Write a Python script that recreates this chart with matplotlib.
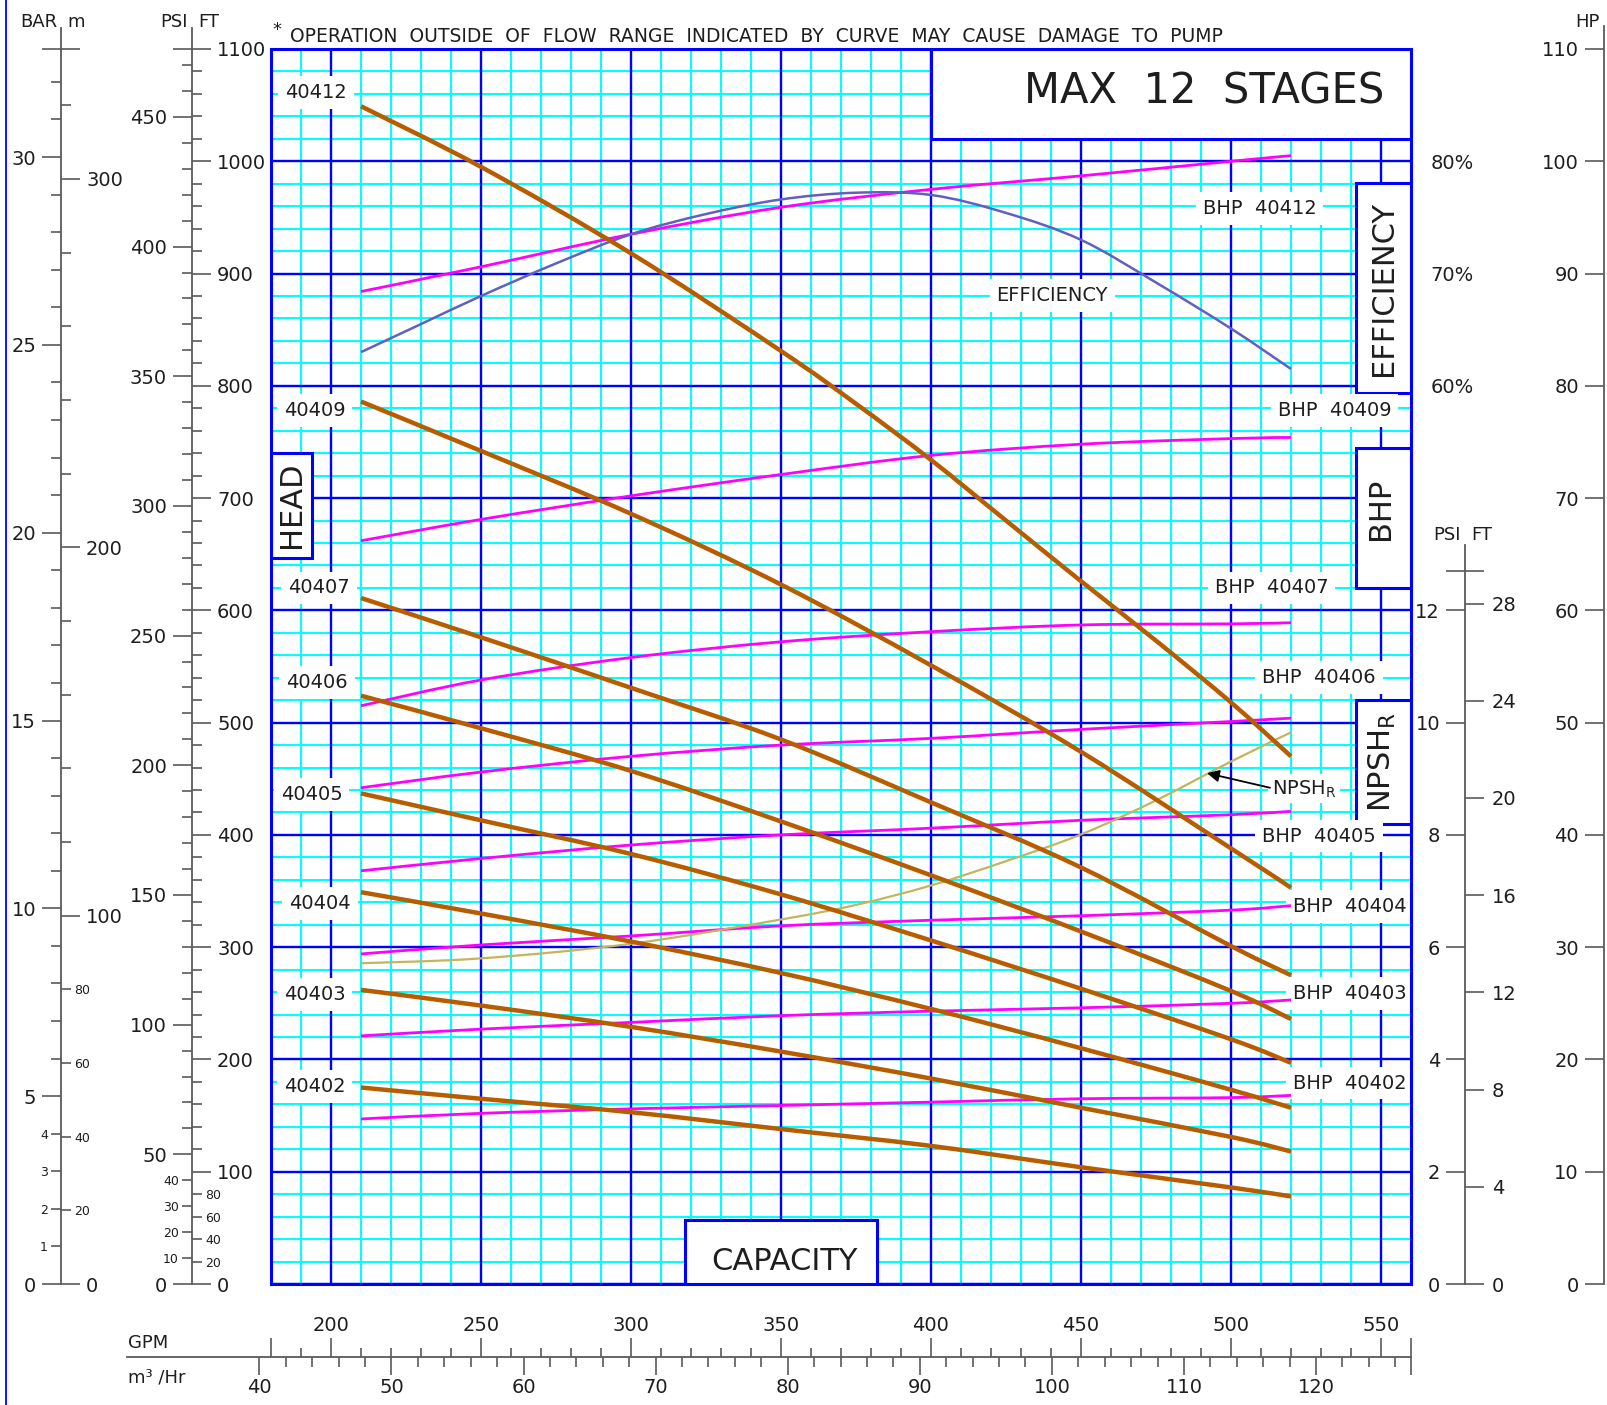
import numpy as np
import matplotlib.pyplot as plt
from matplotlib.patches import Rectangle, PathPatch
from matplotlib.path import Path
from matplotlib.lines import Line2D

W, H = 1607, 1405

# ---- curve readings (flow in GPM, head in FT) ----
flow = [210, 250, 300, 350, 400, 450, 500, 520]
flow_fine = [210, 250, 300, 350, 375, 400, 425, 450, 475, 500, 520]

head_40412 = [1049, 995, 918, 831, 784, 734, 680, 626, 573, 518, 470]
head_40409 = [786, 742, 686, 623, 551, 474, 388, 353]
head_40407 = [611, 576, 531, 485, 429, 371, 301, 275]
head_40406 = [524, 495, 457, 412, 364, 314, 261, 236]
head_40405 = [437, 413, 383, 347, 306, 263, 218, 197]
head_40404 = [349, 330, 305, 277, 245, 210, 173, 157]
head_40403 = [262, 248, 229, 207, 183, 157, 131, 118]
head_40402 = [175, 165, 153, 138, 123, 104, 86, 78]

# brake horsepower (HP)
bhp_40412 = [88.4, 90.6, 93.5, 95.9, 97.5, 98.7, 100.0, 100.5]
bhp_40409 = [66.2, 68.1, 70.2, 72.1, 73.8, 74.8, 75.3, 75.4]
bhp_40407 = [51.5, 53.8, 55.8, 57.2, 58.1, 58.7, 58.8, 58.9]
bhp_40406 = [44.2, 45.6, 47.0, 48.0, 48.6, 49.4, 50.1, 50.4]
bhp_40405 = [36.8, 37.9, 39.1, 40.0, 40.6, 41.3, 41.8, 42.1]
bhp_40404 = [29.4, 30.2, 31.0, 31.9, 32.4, 32.8, 33.3, 33.7]
bhp_40403 = [22.1, 22.7, 23.3, 23.9, 24.3, 24.6, 25.0, 25.3]
bhp_40402 = [14.7, 15.2, 15.6, 15.9, 16.2, 16.5, 16.6, 16.8]

eff_flow = [210, 230, 250, 275, 300, 325, 350, 375, 400, 425, 450, 475, 500, 520]
eff_pct = [63.0, 65.5, 68.0, 70.9, 73.5, 75.3, 76.6, 77.2, 77.0, 75.4, 73.0, 69.2, 65.1, 61.5]

npsh_ft = [13.2, 13.4, 14.0, 15.0, 15.6, 16.4, 17.4, 18.5, 19.9, 21.5, 22.7]

models = ['40412', '40409', '40407', '40406', '40405', '40404', '40403', '40402']
heads = [head_40412, head_40409, head_40407, head_40406,
         head_40405, head_40404, head_40403, head_40402]
bhps = [bhp_40412, bhp_40409, bhp_40407, bhp_40406,
        bhp_40405, bhp_40404, bhp_40403, bhp_40402]

# unit factors (feet of water per unit)
FT_PER_PSI = 2.31
FT_PER_BAR = 33.46
FT_PER_M = 3.281
GPM_PER_M3H = 4.403
CHART_FT_PER_HP = 10.0
CHART_FT_PER_NPSH_PSI = 50.0

# ---- layout ----
BLUE = '#0000ff'
CYAN = '#00ffff'
BROWN = '#b85c00'
MAGENTA = '#ff00ff'
EFFC = '#6060c0'
NPSHC = '#c4b45c'
GREY = '#5a5a5a'
TXT = '#1e1e1e'

PX_L, PX_R, PX_T, PX_B = 271, 1411, 49, 1284


def fx(px):
    return (px - PX_L) / (PX_R - PX_L)


def ft_at(py):
    return 1100.0 * (PX_B - py) / (PX_B - PX_T)


def smooth_curve(x, y, **kw):
    # draw the read points as one smooth bezier path (catmull-rom)
    pts = np.column_stack([np.asarray(x, float), np.asarray(y, float)])
    verts = [pts[0]]
    codes = [Path.MOVETO]
    n = len(pts)
    for i in range(n - 1):
        p0 = pts[i - 1] if i > 0 else pts[i]
        p1, p2 = pts[i], pts[i + 1]
        p3 = pts[i + 2] if i + 2 < n else pts[i + 1]
        verts += [p1 + (p2 - p0) / 6.0, p2 - (p3 - p1) / 6.0, p2]
        codes += [Path.CURVE4] * 3
    ax.add_patch(PathPatch(Path(verts, codes), fill=False, capstyle='butt', **kw))


plt.rcParams['font.family'] = ['DejaVu Sans']

fig = plt.figure(figsize=(W / 100, H / 100), dpi=100)
ax = fig.add_axes([PX_L / W, 1 - PX_B / H, (PX_R - PX_L) / W, (PX_B - PX_T) / H])
ax.set_xlim(180, 560)
ax.set_ylim(0, 1100)
ax.set_xticks([])
ax.set_yticks([])
for s in ax.spines.values():
    s.set_color(BLUE)
    s.set_linewidth(2.2)

# graph paper
ax.vlines(np.arange(180, 561, 10), 0, 1100, color=CYAN, lw=1.5, zorder=0.5)
ax.hlines(np.arange(0, 1101, 20), 180, 560, color=CYAN, lw=1.5, zorder=0.5)
ax.vlines(np.arange(200, 551, 50), 0, 1100, color=BLUE, lw=1.7, zorder=0.6)
ax.hlines(np.arange(0, 1101, 100), 180, 560, color=BLUE, lw=1.7, zorder=0.6)

# boxed captions
for x0, y0, w, h in [(400, 1020, 160, 80), (541.5, 794, 18.5, 187),
                     (541.5, 620, 18.5, 125), (541.5, 410, 18.5, 110),
                     (180, 647, 13.5, 93), (318, 0, 64, 57)]:
    ax.add_patch(Rectangle((x0, y0), w, h, fc='white', ec=BLUE, lw=2.2, zorder=1.5))

ax.text(491, 1062, 'MAX  12  STAGES', fontsize=30, ha='center', va='center', color=TXT, zorder=1.8)
ax.text(550.8, 887, 'EFFICIENCY', fontsize=22, rotation=90, ha='center', va='center', color=TXT, zorder=1.8)
ax.text(549.9, 690, 'BHP', fontsize=22, rotation=90, ha='center', va='center', color=TXT, zorder=1.8)
ax.text(550.4, 465, 'NPSH$_\\mathregular{R}$', fontsize=22, rotation=90, ha='center', va='center',
        color=TXT, zorder=1.8)
ax.text(186.9, 694, 'HEAD', fontsize=22, rotation=90, ha='center', va='center', color=TXT, zorder=1.8)
ax.text(351, 20, 'CAPACITY', fontsize=22, ha='center', va='center', color=TXT, zorder=1.8)

# curve labels
wbox = dict(boxstyle='square,pad=0.35', fc='white', ec='none')
head_label_x = [195.0, 194.6, 196.0, 195.3, 193.6, 196.3, 194.6, 194.6]
head_label_y = [1061, 778, 620, 536, 436, 339, 258, 176]
bhp_label_x = [509.5, 534.5, 513.6, 529.3, 529.3, 539.6, 539.6, 539.6]
bhp_label_y = [958, 778, 620, 540, 399, 336, 259, 179]
for name, x, y in zip(models, head_label_x, head_label_y):
    ax.text(x, y, name, fontsize=14, ha='center', va='center', color=TXT, bbox=wbox, zorder=1.8)
for name, x, y in zip(models, bhp_label_x, bhp_label_y):
    ax.text(x, y, 'BHP  ' + name, fontsize=14, ha='center', va='center', color=TXT, bbox=wbox, zorder=1.8)
ax.text(440.4, 880.5, 'EFFICIENCY', fontsize=14, ha='center', va='center', color=TXT, bbox=wbox, zorder=1.8)
ax.text(513.6, 441, 'NPSH$_\\mathregular{R}$', fontsize=14, ha='left', va='center', color=TXT,
        bbox=dict(boxstyle='square,pad=0.2', fc='white', ec='none'), zorder=1.8)
ax.annotate('', xy=(492, 455), xytext=(513, 442),
            arrowprops=dict(arrowstyle='-|>', color='black', lw=1.3, mutation_scale=18,
                            shrinkA=0, shrinkB=0), zorder=3)

# curves
for b in bhps:
    smooth_curve(flow, np.array(b) * CHART_FT_PER_HP, edgecolor=MAGENTA, lw=2.0, zorder=2.1)
smooth_curve(eff_flow, 800 + (np.array(eff_pct) - 60) * 10, edgecolor=EFFC, lw=1.8, zorder=2.2)
smooth_curve(flow_fine, np.array(npsh_ft) / FT_PER_PSI * CHART_FT_PER_NPSH_PSI,
             edgecolor=NPSHC, lw=1.6, zorder=2.2)
for i, h in enumerate(heads):
    smooth_curve(flow_fine if i == 0 else flow, h, edgecolor=BROWN, lw=3.2, zorder=2.3)

# top note
ax.text(180.4, 1117, '*', fontsize=13, ha='left', va='center', color=TXT, clip_on=False)
ax.text(186.3, 1111, 'OPERATION  OUTSIDE  OF  FLOW  RANGE  INDICATED  BY  CURVE  MAY  CAUSE  DAMAGE  TO  PUMP',
        fontsize=13.5, ha='left', va='center', color=TXT, clip_on=False)


# ---- outer scales ----
def make_scale(pos, ft_per_unit, align, ft_offset=0.0, show_spine=True):
    sec = ax.secondary_yaxis(pos, functions=(
        lambda f, k=ft_per_unit, o=ft_offset: (np.asarray(f, float) - o) / k,
        lambda u, k=ft_per_unit, o=ft_offset: np.asarray(u, float) * k + o))
    sec.set_alignment(align)
    sp = sec.spines[align]
    sp.set_color(GREY)
    sp.set_linewidth(1.3)
    sp.set_visible(show_spine)
    sec.tick_params(which='both', color=GREY, width=1.2, labelcolor=TXT, labelsize=14)
    sec.tick_params(which='major', length=13.5, pad=4.5)
    sec.tick_params(which='minor', length=7, labelsize=9, pad=2.5)
    return sec


def minor_list(start, stop, step, skip, small_max):
    vals = [v for v in np.arange(start, stop, step) if round(v) % skip]
    labs = [str(int(v)) if v <= small_max else '' for v in vals]
    return vals, labs


bar = make_scale(fx(61), FT_PER_BAR, 'left')
bar.set_yticks(list(range(0, 31, 5)) + [1100 / FT_PER_BAR], labels=[str(v) for v in range(0, 31, 5)] + [''])
v, l = minor_list(1, 33, 1, 5, 4)
bar.set_yticks(v, labels=l, minor=True)
bar.spines['left'].set_bounds(0, ft_at(28) / FT_PER_BAR)

met = make_scale(fx(61), FT_PER_M, 'right', show_spine=False)
met.set_yticks([0, 100, 200, 300, 1100 / FT_PER_M], labels=['0', '100', '200', '300', ''])
v, l = minor_list(20, 335, 20, 100, 80)
met.set_yticks(v, labels=l, minor=True)

psi = make_scale(fx(192), FT_PER_PSI, 'left')
psi.set_yticks(list(range(0, 451, 50)) + [1100 / FT_PER_PSI], labels=[str(v) for v in range(0, 451, 50)] + [''])
v, l = minor_list(10, 476, 10, 50, 40)
psi.set_yticks(v, labels=l, minor=True)
psi.spines['left'].set_bounds(0, ft_at(28) / FT_PER_PSI)

fts = make_scale(fx(192), 1.0, 'right', show_spine=False)
fts.set_yticks(list(range(0, 1101, 100)), labels=[str(v) for v in range(0, 1101, 100)])
v, l = minor_list(20, 1100, 20, 100, 80)
fts.set_yticks(v, labels=l, minor=True)

eff = make_scale(1.0, 10.0, 'right', ft_offset=200.0, show_spine=False)
eff.set_yticks([60, 70, 80], labels=['60%', '70%', '80%'])
eff.tick_params(which='major', length=0, pad=14)

npsi = make_scale(fx(1465), CHART_FT_PER_NPSH_PSI, 'left')
npsi.set_yticks(list(range(0, 13, 2)) + [12.7], labels=[str(v) for v in range(0, 13, 2)] + [''])
npsi.spines['left'].set_bounds(0, ft_at(545) / CHART_FT_PER_NPSH_PSI)

nft = make_scale(fx(1465), CHART_FT_PER_NPSH_PSI / FT_PER_PSI, 'right', show_spine=False)
nft.set_yticks(list(range(0, 29, 4)) + [12.7 * FT_PER_PSI], labels=[str(v) for v in range(0, 29, 4)] + [''])
nft.tick_params(which='major', pad=6)

hp = make_scale(fx(1604), CHART_FT_PER_HP, 'left')
hp.set_yticks(list(range(0, 111, 10)), labels=[str(v) for v in range(0, 111, 10)])
hp.spines['left'].set_bounds(0, ft_at(26) / CHART_FT_PER_HP)

# bottom flow scales
bot = fig.add_axes([127 / W, 1 - 1357 / H, (PX_R - 127) / W, 1e-6])
bot.set_xlim(180 - (PX_L - 127) / 3.0, 560)
bot.patch.set_visible(False)
bot.set_yticks([])
for k in ('left', 'right', 'bottom'):
    bot.spines[k].set_visible(False)
bot.spines['top'].set_color(GREY)
bot.spines['top'].set_linewidth(1.3)
bot.xaxis.set_ticks_position('top')
gmaj = list(range(200, 551, 50))
bot.set_xticks([180] + gmaj + [560], labels=[''] + [str(v) for v in gmaj] + [''])
bot.set_xticks([v for v in range(190, 560, 10) if v % 50], minor=True)
bot.tick_params(which='both', color=GREY, width=1.2, labelcolor=TXT, labelsize=14)
bot.tick_params(which='major', length=13.5, pad=2)
bot.tick_params(which='minor', length=6.5)

m3 = bot.secondary_xaxis('bottom', functions=(lambda g: np.asarray(g, float) / GPM_PER_M3H,
                                               lambda q: np.asarray(q, float) * GPM_PER_M3H))
m3.spines['bottom'].set_visible(False)
qmaj = list(range(40, 121, 10))
m3.set_xticks(qmaj + [560 / GPM_PER_M3H], labels=[str(v) for v in qmaj] + [''])
m3.set_xticks([v for v in range(42, 128, 2) if v % 10], minor=True)
m3.tick_params(which='both', color=GREY, width=1.2, labelcolor=TXT, labelsize=14)
m3.tick_params(which='major', length=13, pad=2)
m3.tick_params(which='minor', length=7)


# scale captions
def cap(px, py, s, ha):
    fig.text(px / W, 1 - py / H, s, fontsize=13, ha=ha, va='center', color=TXT)


cap(57, 22, 'BAR', 'right')
cap(67, 22, 'm', 'left')
cap(188, 22, 'PSI', 'right')
cap(198, 22, 'FT', 'left')
cap(1461, 535, 'PSI', 'right')
cap(1471, 535, 'FT', 'left')
cap(1600, 22, 'HP', 'right')
cap(128, 1343, 'GPM', 'left')
cap(128, 1378, 'm³ /Hr', 'left')

fig.add_artist(Line2D([6 / W, 6 / W], [0, 1], color=BLUE, lw=1.3))

fig.savefig('out.png', dpi=100)
